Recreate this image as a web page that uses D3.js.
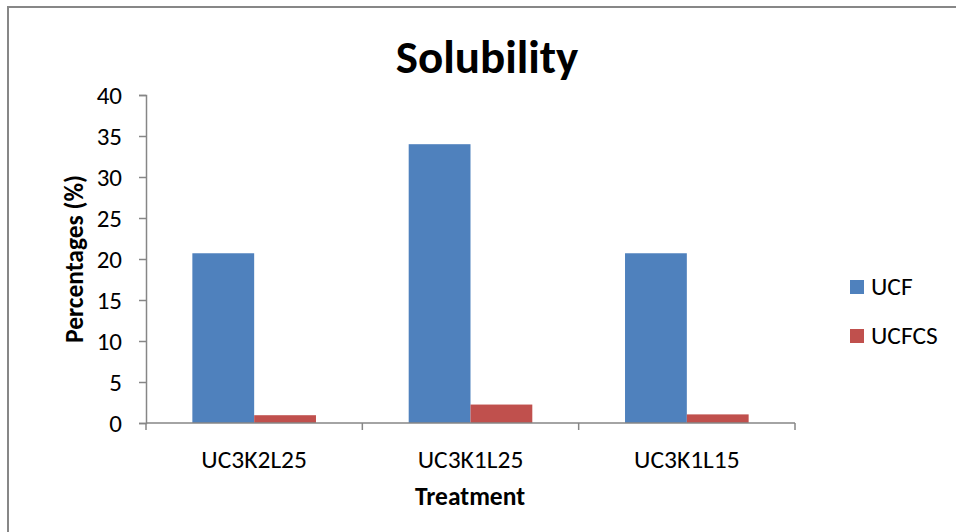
<!DOCTYPE html>
<html>
<head>
<meta charset="utf-8">
<script src="https://cdn.jsdelivr.net/npm/d3@7/dist/d3.min.js"></script>
<style>
  html, body { margin: 0; padding: 0; background: #fff; }
  svg { display: block; }
  text { font-family: Carlito, Lato, "Open Sans", sans-serif; fill: #000; }
</style>
</head>
<body>
<svg id="chart" width="956" height="532"></svg>
<script>
// Solubility by treatment, two formulations
const categories = ["UC3K2L25", "UC3K1L25", "UC3K1L15"];
const seriesNames = ["UCF", "UCFCS"];
const ucf = [20.7, 34.0, 20.7];
const ucfcs = [0.95, 2.25, 1.05];
const yTicks = [0, 5, 10, 15, 20, 25, 30, 35, 40];
const colors = ["#4F81BD", "#C0504D"];

const svg = d3.select("#chart");
const W = 956, H = 532;
const m = { left: 146, right: 795, top: 95, bottom: 423 };
const fontStack = "Carlito, Lato, 'Open Sans', sans-serif";

// outer chart frame
svg.append("rect")
  .attr("x", 8).attr("y", 7).attr("width", W + 10).attr("height", H + 10)
  .attr("fill", "none").attr("stroke", "#878787").attr("stroke-width", 2);

const x = d3.scaleBand().domain(categories).range([m.left, m.right]);
const xs = d3.scaleBand().domain(seriesNames)
  .range([0, x.bandwidth()]).paddingOuter(0.75);
const y = d3.scaleLinear().domain([0, 40]).range([m.bottom, m.top]);

const axisColor = "#868686";

// bars
const rows = categories.map((c, i) => ({ cat: c, vals: [ucf[i], ucfcs[i]] }));
const g = svg.append("g");
rows.forEach(r => {
  r.vals.forEach((v, j) => {
    g.append("rect")
      .attr("x", x(r.cat) + xs(seriesNames[j]))
      .attr("y", y(v))
      .attr("width", xs.bandwidth())
      .attr("height", y(0) - y(v))
      .attr("fill", colors[j]);
  });
});

// y axis
const yAxis = svg.append("g")
  .attr("transform", `translate(${m.left},0)`)
  .call(d3.axisLeft(y).tickValues(yTicks).tickSize(7).tickPadding(17).tickFormat(d3.format("d")));
yAxis.select(".domain").attr("stroke", axisColor).attr("stroke-width", 1.5);
yAxis.selectAll(".tick line").attr("stroke", axisColor).attr("stroke-width", 1.5);
yAxis.selectAll(".tick text").attr("font-size", 25).attr("fill", "#000")
  .style("font-family", fontStack);

// x axis with ticks between categories
const xAxis = svg.append("g").attr("transform", `translate(0,${m.bottom})`);
xAxis.append("line")
  .attr("x1", m.left).attr("x2", m.right)
  .attr("stroke", axisColor).attr("stroke-width", 1.5);
const bounds = categories.map(c => x(c)).concat([x(categories[categories.length - 1]) + x.bandwidth()]);
xAxis.selectAll(".xt").data(bounds).enter().append("line")
  .attr("x1", d => d).attr("x2", d => d).attr("y1", 0).attr("y2", 7)
  .attr("stroke", axisColor).attr("stroke-width", 1.5);
xAxis.selectAll(".xl").data(categories).enter().append("text")
  .attr("x", d => x(d) + x.bandwidth() / 2)
  .attr("y", 45)
  .attr("text-anchor", "middle")
  .attr("font-size", 25.5)
  .text(d => d);

// titles
svg.append("text")
  .attr("x", 487).attr("y", 73)
  .attr("text-anchor", "middle")
  .attr("font-size", 47).attr("font-weight", "bold")
  .text("Solubility");

svg.append("text")
  .attr("x", 470).attr("y", 505)
  .attr("text-anchor", "middle")
  .attr("font-size", 25.5).attr("font-weight", "bold")
  .text("Treatment");

svg.append("text")
  .attr("transform", "translate(83,259) rotate(-90)")
  .attr("text-anchor", "middle")
  .attr("font-size", 25.5).attr("font-weight", "bold")
  .text("Percentages (%)");

// legend
const legend = svg.append("g");
seriesNames.forEach((s, i) => {
  const ly = 280 + i * 49;
  legend.append("rect")
    .attr("x", 850).attr("y", ly).attr("width", 14).attr("height", 14)
    .attr("fill", colors[i]);
  legend.append("text")
    .attr("x", 871).attr("y", ly + 15)
    .attr("font-size", 25.5)
    .text(s);
});
</script>
</body>
</html>
